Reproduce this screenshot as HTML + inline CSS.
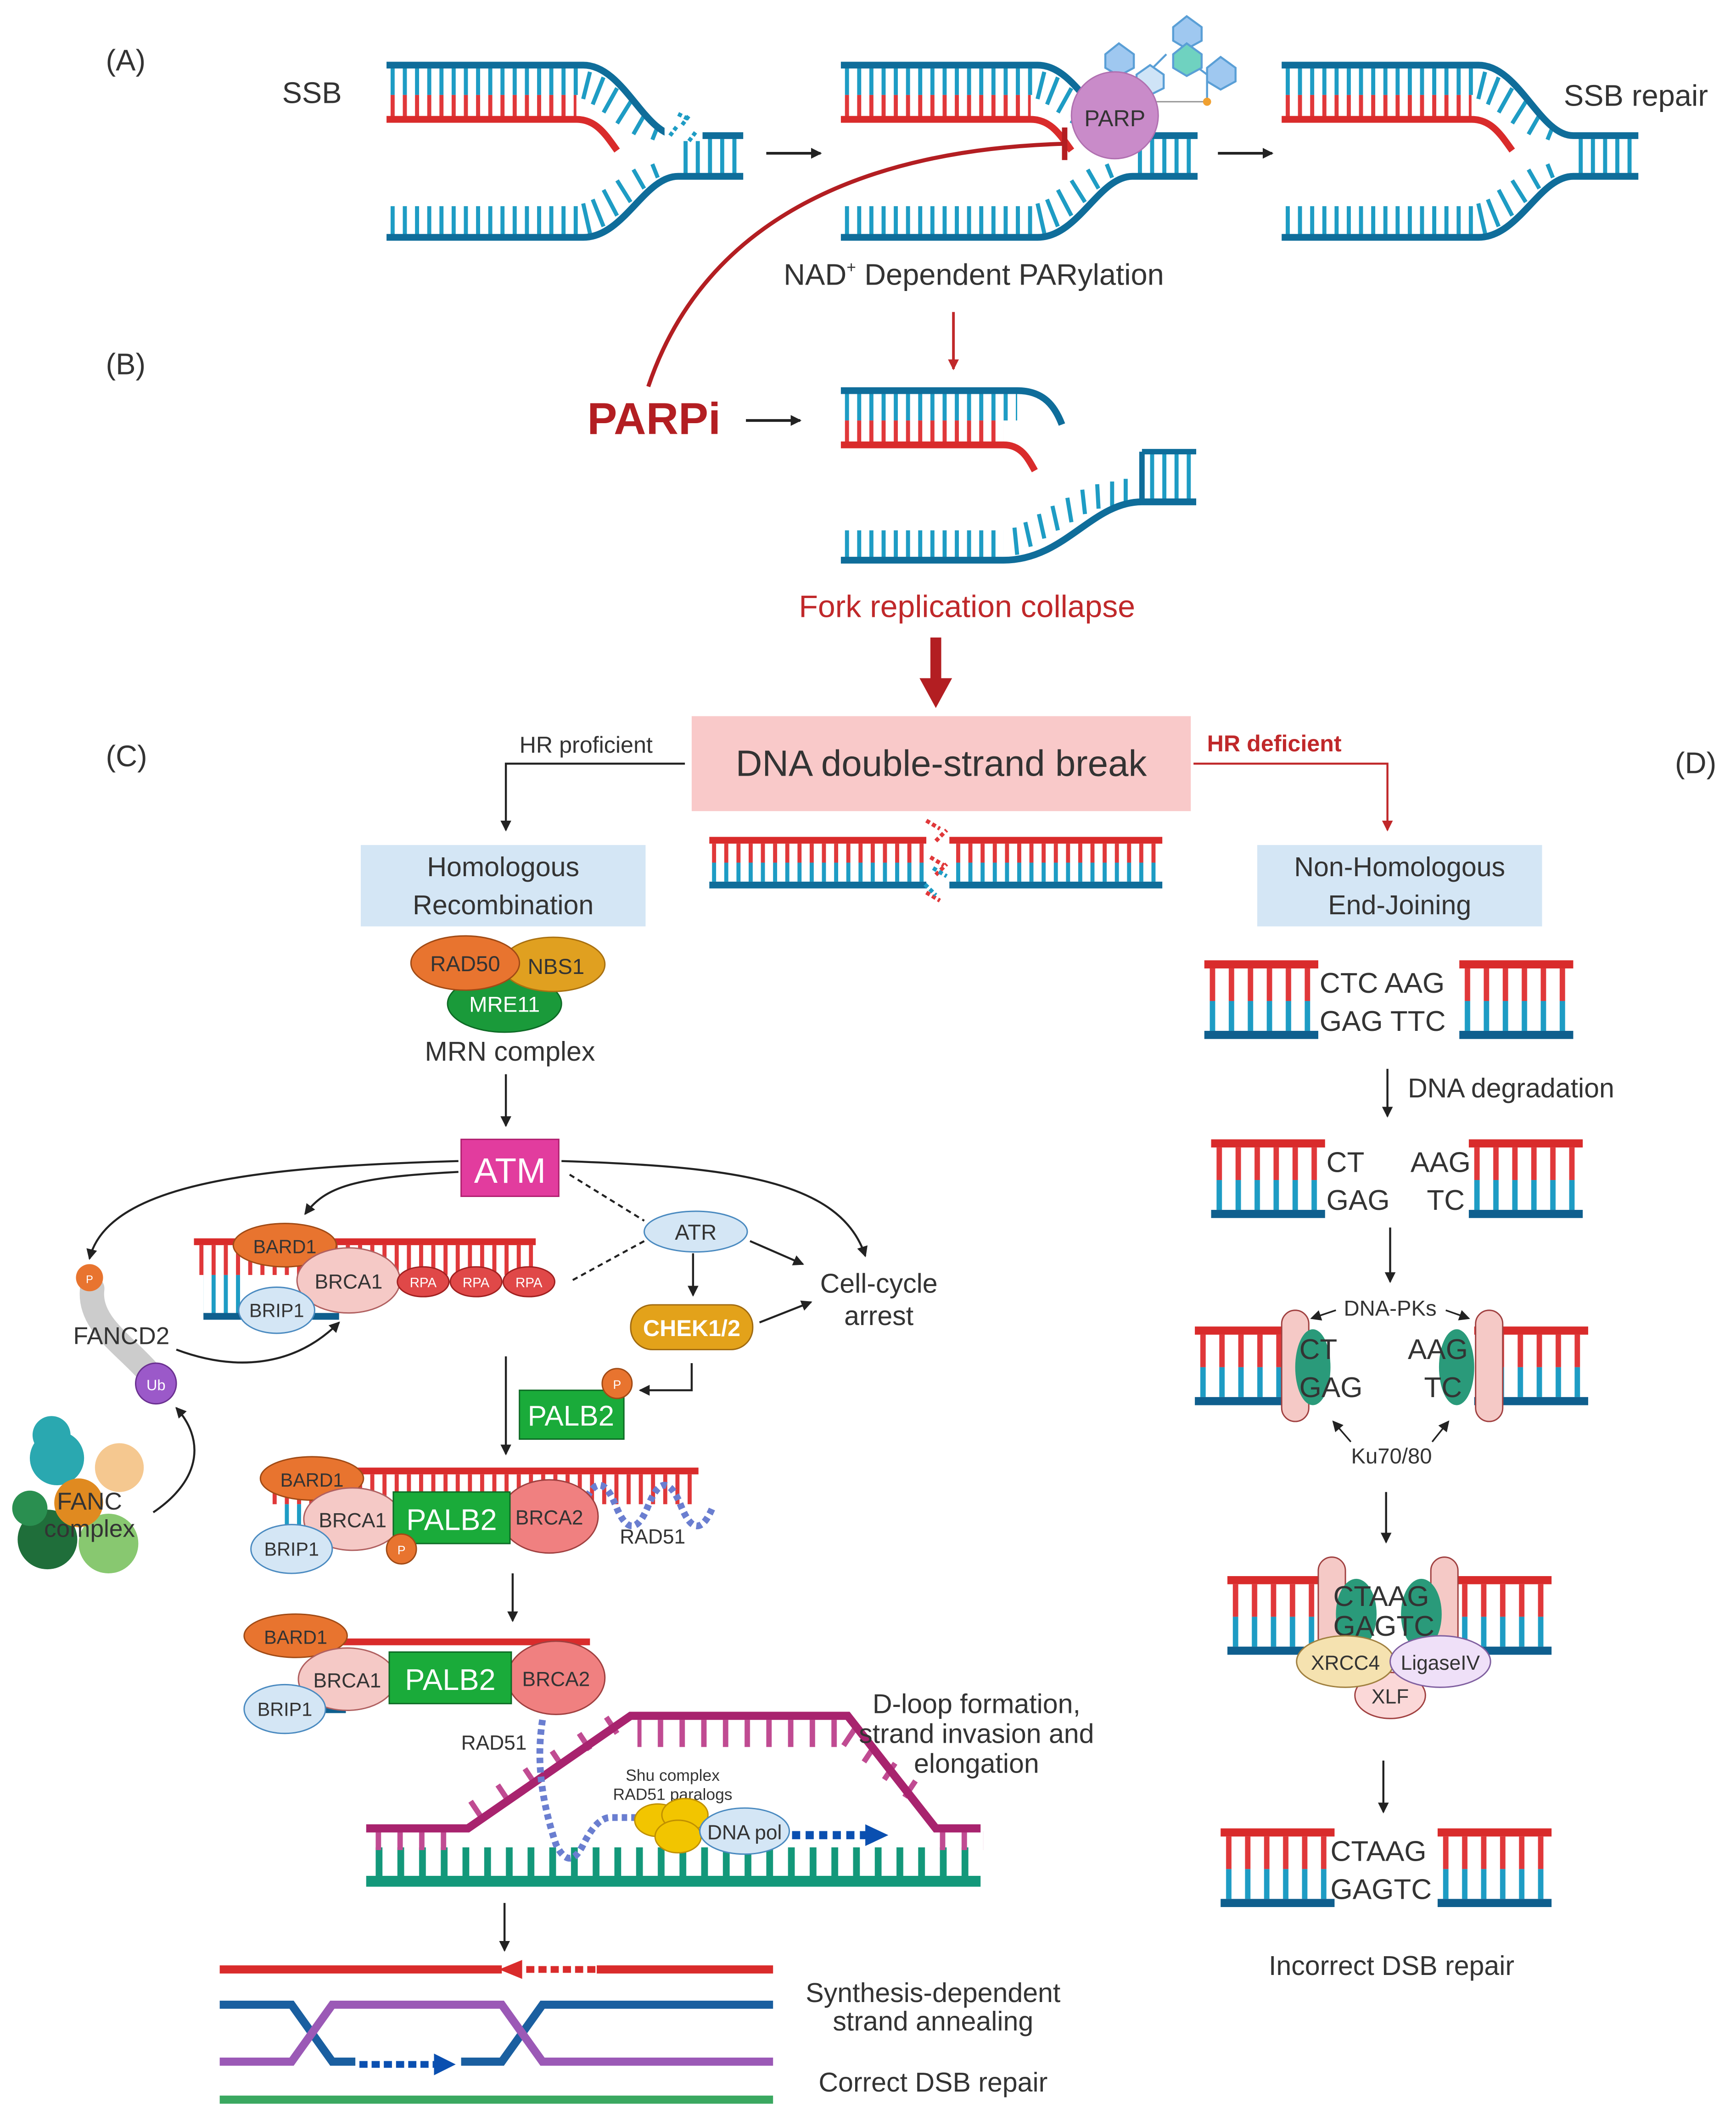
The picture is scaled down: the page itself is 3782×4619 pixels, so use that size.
<!DOCTYPE html>
<html><head><meta charset="utf-8"><style>html,body{margin:0;padding:0;background:#fff}svg{display:block}text{font-family:"Liberation Sans",sans-serif;fill:#333}</style></head><body>
<svg width="3782" height="4619" viewBox="0 0 1280 1563" preserveAspectRatio="none" xmlns="http://www.w3.org/2000/svg">
<defs>
<pattern id="pb" patternUnits="userSpaceOnUse" width="9" height="400"><rect x="3" y="0" width="3" height="400" fill="#1e9cc4"/></pattern>
<pattern id="pr" patternUnits="userSpaceOnUse" width="9" height="400"><rect x="3" y="0" width="3" height="400" fill="#e0383a"/></pattern>
<pattern id="pb2" patternUnits="userSpaceOnUse" width="14" height="400"><rect x="4" y="0" width="4" height="400" fill="#1e9cc4"/></pattern>
<pattern id="pr2" patternUnits="userSpaceOnUse" width="14" height="400"><rect x="4" y="0" width="4" height="400" fill="#e0383a"/></pattern>
<pattern id="pm" patternUnits="userSpaceOnUse" width="16" height="400"><rect x="5" y="0" width="4" height="400" fill="#c04b92"/></pattern>
<pattern id="pg" patternUnits="userSpaceOnUse" width="16" height="400"><rect x="5" y="0" width="5" height="400" fill="#13987a"/></pattern>
<marker id="ah" markerWidth="8" markerHeight="8" refX="7" refY="4" orient="auto" markerUnits="userSpaceOnUse"><path d="M0,0 L8,4 L0,8 z" fill="#222"/></marker>
<marker id="ahr" markerWidth="8" markerHeight="8" refX="7" refY="4" orient="auto" markerUnits="userSpaceOnUse"><path d="M0,0 L8,4 L0,8 z" fill="#c0282a"/></marker>
<g id="fork">
<rect x="0" y="5" width="145" height="20" fill="url(#pb)"/>
<rect x="0" y="25" width="140" height="18" fill="url(#pr)"/>
<rect x="0" y="107" width="145" height="21" fill="url(#pb)"/>
<rect x="215" y="57" width="48" height="26" fill="url(#pb)"/>
<path d="M150,8 L145,28 M160,12 L152,32 M170,20 L160,38 M180,30 L170,46 M190,40 L182,54 M200,48 L196,58" stroke="#1e9cc4" stroke-width="3"/>
<path d="M150,127 L145,105 M160,122 L152,102 M170,114 L160,95 M180,104 L170,88 M190,94 L182,80 M200,86 L196,76" stroke="#1e9cc4" stroke-width="3"/>
<path d="M0,3 H145 C175,3 190,55 215,55 H263" stroke="#0f6d9a" stroke-width="5" fill="none"/>
<path d="M0,43 H140 C155,43 162,55 170,66" stroke="#d92b2b" stroke-width="5" fill="none"/>
<path d="M0,130 H145 C175,130 190,85 215,85 H263" stroke="#0f6d9a" stroke-width="5" fill="none"/>
</g>
<g id="lad">
<rect x="0" y="0" width="84" height="6" fill="#d92b2b"/>
<rect x="0" y="6" width="84" height="24" fill="url(#pr2)"/>
<rect x="0" y="30" width="84" height="22" fill="url(#pb2)"/>
<rect x="0" y="52" width="84" height="6" fill="#0f5f8e"/>
</g>
</defs>

<!-- Section A -->
<text x="78" y="52" font-size="22">(A)</text>
<text x="208" y="76" font-size="22">SSB</text>
<use href="#fork" x="285" y="45"/>
<rect x="490" y="80" width="28" height="24" fill="#fff"/>
<path d="M494,100 l6,-8 M503,92 l6,-8 M508,104 l6,-8 M500,84 l8,4" stroke="#1e9cc4" stroke-width="3" stroke-dasharray="3,2"/>
<line x1="565" y1="113" x2="605" y2="113" stroke="#222" stroke-width="2" marker-end="url(#ah)"/>
<use href="#fork" x="620" y="45"/>
<g stroke="#5a9fd6" stroke-width="1.5" fill="#9fc8f0">
<line x1="845" y1="55" x2="860" y2="40"/><line x1="870" y1="40" x2="890" y2="55"/><line x1="870" y1="40" x2="875" y2="25"/><line x1="890" y1="60" x2="890" y2="75"/>
<polygon points="815,40 825,32 836,40 836,50 825,56 815,50"/>
<polygon points="865,20 875,12 886,20 886,30 875,36 865,30"/>
<polygon points="865,40 875,32 886,40 886,50 875,56 865,50" fill="#6fd2c0"/>
<polygon points="890,50 900,42 911,50 911,60 900,66 890,60"/>
<polygon points="838,55 848,48 858,55 858,65 848,70 838,65" fill="#cfe4f7"/>
</g>
<line x1="850" y1="75" x2="890" y2="75" stroke="#999" stroke-width="1"/>
<circle cx="890" cy="75" r="3" fill="#f0a030"/>
<circle cx="822" cy="85" r="32" fill="#c98bc9" stroke="#b070b0"/>
<text x="822" y="93" font-size="17" text-anchor="middle">PARP</text>
<line x1="898" y1="113" x2="938" y2="113" stroke="#222" stroke-width="2" marker-end="url(#ah)"/>
<use href="#fork" x="945" y="45"/>
<text x="1153" y="78" font-size="22">SSB repair</text>
<text x="718" y="210" font-size="22" text-anchor="middle">NAD<tspan font-size="12" dy="-9">+</tspan><tspan dy="9"> Dependent PARylation</tspan></text>

<!-- Section B -->
<text x="78" y="276" font-size="22">(B)</text>
<line x1="703" y1="230" x2="703" y2="272" stroke="#c0282a" stroke-width="2" marker-end="url(#ahr)"/>
<path d="M478,285 C520,160 640,110 785,106" stroke="#b31e22" stroke-width="3" fill="none"/>
<line x1="785" y1="94" x2="785" y2="118" stroke="#b31e22" stroke-width="4"/>
<text x="433" y="320" font-size="33" font-weight="bold" style="fill:#b31e22">PARPi</text>
<line x1="550" y1="310" x2="590" y2="310" stroke="#222" stroke-width="2" marker-end="url(#ah)"/>
<g transform="translate(620,285)">
<rect x="0" y="5" width="130" height="20" fill="url(#pb)"/>
<rect x="0" y="25" width="120" height="18" fill="url(#pr)"/>
<path d="M0,3 H130 C150,3 158,15 163,28" stroke="#0f6d9a" stroke-width="5" fill="none"/>
<path d="M0,43 H120 C133,43 138,53 143,62" stroke="#d92b2b" stroke-width="5" fill="none"/>
<rect x="0" y="106" width="120" height="20" fill="url(#pb)"/>
<rect x="222" y="48" width="40" height="37" fill="url(#pb)"/>
<path d="M130,124 L128,104 M140,118 L136,100 M150,112 L146,94 M160,106 L156,88 M170,100 L167,82 M180,94 L178,76 M190,90 L189,72 M200,88 L200,70 M210,86 L210,68" stroke="#1e9cc4" stroke-width="3"/>
<path d="M0,128 H120 C165,128 185,85 222,85 H262" stroke="#0f6d9a" stroke-width="5" fill="none"/>
<path d="M222,48 H262 M222,48 V85" stroke="#0f6d9a" stroke-width="4"/>
</g>
<text x="713" y="455" font-size="23" text-anchor="middle" style="fill:#c0282a">Fork replication collapse</text>
<line x1="690" y1="470" x2="690" y2="505" stroke="#b31e22" stroke-width="8"/>
<path d="M678,500 L702,500 L690,522 z" fill="#b31e22"/>

<!-- Section C/D header -->
<text x="78" y="565" font-size="22">(C)</text>
<text x="1235" y="570" font-size="22">(D)</text>
<rect x="510" y="528" width="368" height="70" fill="#f9c9c9"/>
<text x="694" y="572" font-size="27" text-anchor="middle">DNA double-strand break</text>
<text x="383" y="555" font-size="17">HR proficient</text>
<path d="M505,563 H373 V612" stroke="#222" stroke-width="1.5" fill="none" marker-end="url(#ah)"/>
<text x="890" y="554" font-size="17" font-weight="bold" style="fill:#c0282a">HR deficient</text>
<path d="M880,563 H1023 V612" stroke="#c0282a" stroke-width="1.5" fill="none" marker-end="url(#ahr)"/>
<g>
<rect x="523" y="617" width="160" height="5" fill="#d92b2b"/><rect x="700" y="617" width="157" height="5" fill="#d92b2b"/>
<rect x="523" y="622" width="160" height="14" fill="url(#pr)"/><rect x="700" y="622" width="157" height="14" fill="url(#pr)"/>
<rect x="523" y="636" width="160" height="14" fill="url(#pb)"/><rect x="700" y="636" width="157" height="14" fill="url(#pb)"/>
<rect x="523" y="650" width="160" height="5" fill="#0f6d9a"/><rect x="700" y="650" width="157" height="5" fill="#0f6d9a"/>
<path d="M683,605 l10,6 M690,620 l8,-8 M686,632 l10,6 M690,645 l8,-8 M683,658 l10,6" stroke="#e0383a" stroke-width="3" stroke-dasharray="3,2"/>
<path d="M688,640 l10,6 M682,652 l8,8" stroke="#1e9cc4" stroke-width="3" stroke-dasharray="3,2"/>
</g>
<rect x="266" y="623" width="210" height="60" fill="#d4e6f5"/>
<text x="371" y="646" font-size="20" text-anchor="middle">Homologous</text>
<text x="371" y="674" font-size="20" text-anchor="middle">Recombination</text>
<rect x="927" y="623" width="210" height="60" fill="#d4e6f5"/>
<text x="1032" y="646" font-size="20" text-anchor="middle">Non-Homologous</text>
<text x="1032" y="674" font-size="20" text-anchor="middle">End-Joining</text>

<!-- HR pathway -->
<ellipse cx="372" cy="740" rx="42" ry="21" fill="#1a9a3a" stroke="#0d6a25"/>
<ellipse cx="408" cy="711" rx="38" ry="20" fill="#e0a020" stroke="#a87010"/>
<ellipse cx="343" cy="710" rx="40" ry="20" fill="#e8742f" stroke="#a04a15"/>
<text x="343" y="716" font-size="16" text-anchor="middle">RAD50</text>
<text x="410" y="718" font-size="16" text-anchor="middle">NBS1</text>
<text x="372" y="746" font-size="16" text-anchor="middle" style="fill:#fff">MRE11</text>
<text x="376" y="782" font-size="20" text-anchor="middle">MRN complex</text>
<line x1="373" y1="792" x2="373" y2="830" stroke="#222" stroke-width="1.5" marker-end="url(#ah)"/>
<rect x="340" y="840" width="72" height="42" fill="#e23c9e" stroke="#b02070"/>
<text x="376" y="872" font-size="26" text-anchor="middle" style="fill:#fff">ATM</text>
<g stroke="#222" stroke-width="1.5" fill="none">
<path d="M338,856 C200,860 80,870 66,928" marker-end="url(#ah)"/>
<path d="M338,864 C260,868 240,875 225,895" marker-end="url(#ah)"/>
<path d="M414,856 C540,860 620,870 638,926" marker-end="url(#ah)"/>
<path d="M420,866 L475,900" stroke-dasharray="4,3"/>
<path d="M475,915 L420,945" stroke-dasharray="4,3"/>
<path d="M553,915 L592,932" marker-end="url(#ah)"/>
<path d="M511,924 V955" marker-end="url(#ah)"/>
<path d="M560,975 L598,960" marker-end="url(#ah)"/>
<path d="M510,1005 V1025 H472" marker-end="url(#ah)"/>
<path d="M130,995 C170,1010 215,1010 250,975" marker-end="url(#ah)"/>
<path d="M113,1115 C150,1090 150,1060 130,1038" marker-end="url(#ah)"/>
<path d="M373,1000 V1072" marker-end="url(#ah)"/>
<path d="M378,1160 V1195" marker-end="url(#ah)"/>
<path d="M372,1403 V1438" marker-end="url(#ah)"/>
<path d="M1023,788 V823" marker-end="url(#ah)"/>
<path d="M1025,905 V945" marker-end="url(#ah)"/>
<path d="M1022,1100 V1137" marker-end="url(#ah)"/>
<path d="M1020,1298 V1336" marker-end="url(#ah)"/>
</g>
<ellipse cx="513" cy="908" rx="38" ry="15" fill="#d4e6f5" stroke="#4a8ac0"/>
<text x="513" y="914" font-size="16" text-anchor="middle">ATR</text>
<rect x="465" y="962" width="90" height="33" rx="16" fill="#e3a21a" stroke="#a06a10"/>
<text x="510" y="985" font-size="17" font-weight="bold" text-anchor="middle" style="fill:#fff">CHEK1/2</text>
<text x="648" y="953" font-size="20" text-anchor="middle">Cell-cycle</text>
<text x="648" y="977" font-size="20" text-anchor="middle">arrest</text>
<!-- ssDNA with RPA -->
<rect x="143" y="913" width="252" height="5" fill="#d92b2b"/>
<rect x="143" y="918" width="250" height="22" fill="url(#pr)"/>
<rect x="150" y="940" width="30" height="30" fill="url(#pb)"/>
<rect x="150" y="968" width="100" height="5" fill="#0f5f8e"/>
<ellipse cx="210" cy="918" rx="38" ry="16" fill="#e8742f" stroke="#a04a15"/>
<text x="210" y="924" font-size="14" text-anchor="middle">BARD1</text>
<ellipse cx="257" cy="944" rx="38" ry="24" fill="#f5c9c6" stroke="#b06060"/>
<text x="257" y="950" font-size="15" text-anchor="middle">BRCA1</text>
<ellipse cx="204" cy="966" rx="28" ry="17" fill="#d4e6f5" stroke="#4a8ac0"/>
<text x="204" y="971" font-size="14" text-anchor="middle">BRIP1</text>
<g fill="#e04848" stroke="#a02020"><ellipse cx="312" cy="945" rx="19" ry="11"/><ellipse cx="351" cy="945" rx="19" ry="11"/><ellipse cx="390" cy="945" rx="19" ry="11"/></g>
<g font-size="10" text-anchor="middle"><text x="312" y="949" style="fill:#fff">RPA</text><text x="351" y="949" style="fill:#fff">RPA</text><text x="390" y="949" style="fill:#fff">RPA</text></g>
<!-- FANCD2 -->
<path d="M68,950 C65,975 90,990 108,1010" stroke="#ccc" stroke-width="18" stroke-linecap="round" fill="none"/>
<circle cx="66" cy="942" r="10" fill="#e8742f"/><text x="66" y="946" font-size="8" text-anchor="middle" style="fill:#fff">P</text>
<text x="54" y="991" font-size="18">FANCD2</text>
<circle cx="115" cy="1020" r="15" fill="#9b59c9" stroke="#6a3090"/><text x="115" y="1025" font-size="11" text-anchor="middle" style="fill:#fff">Ub</text>
<g>
<circle cx="42" cy="1075" r="20" fill="#2aa8b0"/><circle cx="38" cy="1058" r="14" fill="#2aa8b0"/><circle cx="88" cy="1082" r="18" fill="#f5c890"/><circle cx="35" cy="1135" r="22" fill="#1f6e3a"/><circle cx="80" cy="1138" r="22" fill="#88c870"/><circle cx="58" cy="1108" r="18" fill="#e08a20"/><circle cx="22" cy="1112" r="13" fill="#2a8f50"/>
</g>
<text x="66" y="1113" font-size="18" text-anchor="middle">FANC</text>
<text x="66" y="1133" font-size="18" text-anchor="middle">complex</text>
<!-- PALB2 -->
<rect x="383" y="1025" width="77" height="36" fill="#1aab3a" stroke="#0d6a25"/>
<text x="421" y="1051" font-size="21" text-anchor="middle" style="fill:#fff">PALB2</text>
<circle cx="455" cy="1020" r="11" fill="#e8742f" stroke="#a04a15"/><text x="455" y="1024" font-size="9" text-anchor="middle" style="fill:#fff">P</text>
<!-- ssDNA with PALB2/BRCA2/RAD51 -->
<rect x="200" y="1082" width="315" height="5" fill="#d92b2b"/>
<rect x="200" y="1087" width="312" height="22" fill="url(#pr)"/>
<rect x="205" y="1109" width="30" height="25" fill="url(#pb)"/>
<path d="M430,1110 q12,-30 24,0 t24,0 t24,0 t24,0" stroke="#6a7ed0" stroke-width="5" stroke-dasharray="4,3" fill="none"/>
<ellipse cx="230" cy="1090" rx="38" ry="16" fill="#e8742f" stroke="#a04a15"/>
<text x="230" y="1096" font-size="14" text-anchor="middle">BARD1</text>
<ellipse cx="405" cy="1118" rx="36" ry="27" fill="#f08080" stroke="#a04040"/>
<text x="405" y="1124" font-size="15" text-anchor="middle">BRCA2</text>
<ellipse cx="260" cy="1120" rx="36" ry="23" fill="#f5c9c6" stroke="#b06060"/>
<text x="260" y="1126" font-size="15" text-anchor="middle">BRCA1</text>
<rect x="290" y="1100" width="86" height="38" fill="#1aab3a" stroke="#0d6a25"/>
<text x="333" y="1128" font-size="22" text-anchor="middle" style="fill:#fff">PALB2</text>
<ellipse cx="215" cy="1142" rx="30" ry="18" fill="#d4e6f5" stroke="#4a8ac0"/>
<text x="215" y="1147" font-size="14" text-anchor="middle">BRIP1</text>
<circle cx="296" cy="1142" r="11" fill="#e8742f" stroke="#a04a15"/><text x="296" y="1146" font-size="9" text-anchor="middle" style="fill:#fff">P</text>
<text x="457" y="1138" font-size="15">RAD51</text>
<!-- third complex -->
<rect x="190" y="1208" width="245" height="5" fill="#d92b2b"/>
<rect x="230" y="1255" width="25" height="8" fill="#0f5f8e"/>
<ellipse cx="218" cy="1206" rx="38" ry="16" fill="#e8742f" stroke="#a04a15"/>
<text x="218" y="1212" font-size="14" text-anchor="middle">BARD1</text>
<ellipse cx="410" cy="1237" rx="36" ry="27" fill="#f08080" stroke="#a04040"/>
<text x="410" y="1243" font-size="15" text-anchor="middle">BRCA2</text>
<ellipse cx="256" cy="1238" rx="36" ry="23" fill="#f5c9c6" stroke="#b06060"/>
<text x="256" y="1244" font-size="15" text-anchor="middle">BRCA1</text>
<rect x="287" y="1218" width="90" height="38" fill="#1aab3a" stroke="#0d6a25"/>
<text x="332" y="1246" font-size="22" text-anchor="middle" style="fill:#fff">PALB2</text>
<ellipse cx="210" cy="1260" rx="30" ry="18" fill="#d4e6f5" stroke="#4a8ac0"/>
<text x="210" y="1265" font-size="14" text-anchor="middle">BRIP1</text>
<text x="340" y="1290" font-size="15">RAD51</text>
<!-- D-loop -->
<rect x="270" y="1362" width="453" height="22" fill="url(#pg)"/>
<rect x="270" y="1383" width="453" height="8" fill="#13987a"/>
<rect x="470" y="1268" width="150" height="20" fill="url(#pm)"/>
<rect x="270" y="1350" width="70" height="14" fill="url(#pm)"/>
<rect x="685" y="1350" width="40" height="14" fill="url(#pm)"/>
<path d="M355,1340 l-8,-12 M375,1328 l-8,-12 M395,1316 l-8,-12 M415,1303 l-8,-12 M435,1290 l-8,-12 M455,1278 l-8,-12 M630,1275 l-8,12 M645,1287 l-8,12 M660,1300 l-8,12 M675,1313 l-8,12" stroke="#c04b92" stroke-width="4"/>
<path d="M270,1348 H345 L465,1265 H625 L690,1348 H723" stroke="#a8236e" stroke-width="6" fill="none"/>
<path d="M400,1268 C395,1300 400,1330 410,1360 q10,20 20,0 t20,-20 t20,0" stroke="#6a7ed0" stroke-width="5" stroke-dasharray="4,3" fill="none"/>
<text x="720" y="1263" font-size="20" text-anchor="middle">D-loop formation,</text>
<text x="720" y="1285" font-size="20" text-anchor="middle">strand invasion and</text>
<text x="720" y="1307" font-size="20" text-anchor="middle">elongation</text>
<text x="496" y="1313" font-size="12" text-anchor="middle">Shu complex</text>
<text x="496" y="1327" font-size="12" text-anchor="middle">RAD51 paralogs</text>
<g fill="#f2c500" stroke="#c09000"><ellipse cx="485" cy="1342" rx="17" ry="12"/><ellipse cx="505" cy="1338" rx="17" ry="12"/><ellipse cx="500" cy="1354" rx="17" ry="12"/></g>
<ellipse cx="549" cy="1350" rx="33" ry="17" fill="#d4e6f5" stroke="#4a8ac0"/>
<text x="549" y="1356" font-size="15" text-anchor="middle">DNA pol</text>
<line x1="584" y1="1353" x2="640" y2="1353" stroke="#0a4fb0" stroke-width="6" stroke-dasharray="6,4"/>
<path d="M638,1345 L655,1353 L638,1361 z" fill="#0a4fb0"/>
<!-- final -->
<rect x="162" y="1449" width="208" height="6" fill="#d92b2b"/>
<rect x="440" y="1449" width="130" height="6" fill="#d92b2b"/>
<line x1="388" y1="1452" x2="440" y2="1452" stroke="#d92b2b" stroke-width="5" stroke-dasharray="6,3"/>
<path d="M368,1452 L385,1459 L385,1445 z" fill="#d92b2b"/>
<path d="M162,1478 H215 L245,1520 H262 M340,1520 H370 L400,1478 H570" stroke="#1a5fa0" stroke-width="6" fill="none"/>
<path d="M162,1520 H215 L245,1478 H370 L400,1520 H570" stroke="#9b59b6" stroke-width="6" fill="none"/>
<line x1="265" y1="1522" x2="322" y2="1522" stroke="#0a4fb0" stroke-width="5" stroke-dasharray="6,3"/>
<path d="M320,1514 L336,1522 L320,1530 z" fill="#0a4fb0"/>
<rect x="162" y="1545" width="408" height="6" fill="#3aa860"/>
<text x="688" y="1476" font-size="20" text-anchor="middle">Synthesis-dependent</text>
<text x="688" y="1497" font-size="20" text-anchor="middle">strand annealing</text>
<text x="688" y="1542" font-size="20" text-anchor="middle">Correct DSB repair</text>

<!-- NHEJ -->
<use href="#lad" x="888" y="708"/><use href="#lad" x="1076" y="708"/>
<text x="973" y="732" font-size="21">CTC  AAG</text>
<text x="973" y="760" font-size="21">GAG  TTC</text>
<text x="1038" y="809" font-size="20">DNA degradation</text>
<use href="#lad" x="893" y="840"/><use href="#lad" x="1083" y="840"/>
<text x="978" y="864" font-size="21">CT</text><text x="1040" y="864" font-size="21">AAG</text>
<text x="978" y="892" font-size="21">GAG</text><text x="1052" y="892" font-size="21">TC</text>
<use href="#lad" x="881" y="978"/><use href="#lad" x="1087" y="978"/>
<rect x="945" y="966" width="20" height="82" rx="10" fill="#f5c9c6" stroke="#a04040"/>
<rect x="1088" y="966" width="20" height="82" rx="10" fill="#f5c9c6" stroke="#a04040"/>
<ellipse cx="968" cy="1008" rx="13" ry="28" fill="#2a9a7a"/><ellipse cx="1074" cy="1008" rx="13" ry="28" fill="#2a9a7a"/>
<text x="958" y="1002" font-size="21">CT</text><text x="1038" y="1002" font-size="21">AAG</text>
<text x="958" y="1030" font-size="21">GAG</text><text x="1050" y="1030" font-size="21">TC</text>
<text x="1025" y="970" font-size="16" text-anchor="middle">DNA-PKs</text>
<line x1="985" y1="966" x2="967" y2="972" stroke="#222" stroke-width="1.2" marker-end="url(#ah)"/>
<line x1="1066" y1="966" x2="1083" y2="972" stroke="#222" stroke-width="1.2" marker-end="url(#ah)"/>
<text x="1026" y="1079" font-size="16" text-anchor="middle">Ku70/80</text>
<line x1="996" y1="1063" x2="983" y2="1048" stroke="#222" stroke-width="1.2" marker-end="url(#ah)"/>
<line x1="1056" y1="1063" x2="1068" y2="1048" stroke="#222" stroke-width="1.2" marker-end="url(#ah)"/>
<use href="#lad" x="905" y="1162"/><use href="#lad" x="1060" y="1162"/>
<rect x="972" y="1148" width="20" height="70" rx="10" fill="#f5c9c6" stroke="#a04040"/>
<rect x="1055" y="1148" width="20" height="70" rx="10" fill="#f5c9c6" stroke="#a04040"/>
<ellipse cx="1000" cy="1190" rx="15" ry="26" fill="#2a9a7a"/><ellipse cx="1048" cy="1190" rx="15" ry="26" fill="#2a9a7a"/>
<text x="983" y="1184" font-size="21">CTAAG</text>
<text x="983" y="1206" font-size="21">GAGTC</text>
<ellipse cx="1025" cy="1250" rx="26" ry="17" fill="#fbd8d8" stroke="#a04040"/>
<text x="1025" y="1256" font-size="15" text-anchor="middle">XLF</text>
<ellipse cx="992" cy="1225" rx="36" ry="19" fill="#f5e2b0" stroke="#a08040"/>
<text x="992" y="1231" font-size="15" text-anchor="middle">XRCC4</text>
<ellipse cx="1062" cy="1225" rx="37" ry="19" fill="#efe0f8" stroke="#8060a0"/>
<text x="1062" y="1231" font-size="15" text-anchor="middle">LigaseIV</text>
<use href="#lad" x="900" y="1348"/><use href="#lad" x="1060" y="1348"/>
<text x="981" y="1372" font-size="21">CTAAG</text>
<text x="981" y="1400" font-size="21">GAGTC</text>
<text x="1026" y="1456" font-size="20" text-anchor="middle">Incorrect DSB repair</text>
</svg>
</body></html>
